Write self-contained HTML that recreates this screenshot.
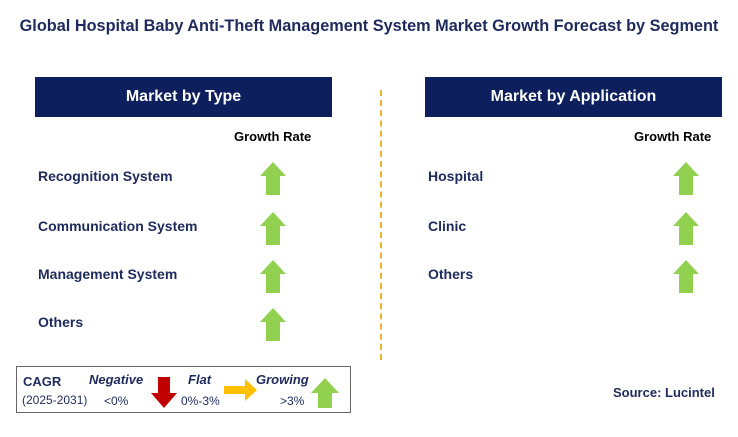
<!DOCTYPE html>
<html><head><meta charset="utf-8"><style>
body{margin:0;width:738px;height:437px;background:#fff;font-family:"Liberation Sans",sans-serif;position:relative;overflow:hidden}
.a{position:absolute}
.t{font-weight:bold;color:#1f2a5c}
.hdr{background:#0d1f5c;color:#fff;font-weight:bold;font-size:16px;text-align:center;line-height:40px;height:40px}
.lbl{font-weight:bold;font-size:14px;color:#1f2a5c}
.gr{font-weight:bold;font-size:13px;color:#000}
</style></head><body>
<div class="a t" style="left:0;width:738px;top:17px;text-align:center;font-size:16.3px">Global Hospital Baby Anti-Theft Management System Market Growth Forecast by Segment</div>
<div class="a hdr" style="left:35px;top:77px;width:297px">Market by Type</div>
<div class="a hdr" style="left:425px;top:77px;width:297px">Market by Application</div>
<div class="a gr" style="left:234px;top:129px">Growth Rate</div>
<div class="a gr" style="left:634px;top:129px">Growth Rate</div>
<div class="a" style="left:380px;top:90px;height:270px;border-left:2px dashed #f0b030"></div>
<div id="rows"></div>
<div class="a" style="left:16px;top:366px;width:333px;height:45px;border:1.5px solid #666"></div>
<div class="a t" style="left:23px;top:374px;font-size:13px">CAGR</div>
<div class="a" style="left:22px;top:393px;font-size:12px;color:#1f2a5c">(2025-2031)</div>
<div class="a t" style="left:89px;top:372px;font-size:13px;font-style:italic">Negative</div>
<div class="a" style="left:104px;top:394px;font-size:12px;color:#1f2a5c">&lt;0%</div>
<div class="a t" style="left:188px;top:372px;font-size:13px;font-style:italic">Flat</div>
<div class="a" style="left:181px;top:394px;font-size:12px;color:#1f2a5c">0%-3%</div>
<div class="a t" style="left:256px;top:372px;font-size:13px;font-style:italic">Growing</div>
<div class="a" style="left:280px;top:394px;font-size:12px;color:#1f2a5c">&gt;3%</div>
<svg class="a" style="left:0;top:0" width="738" height="437">
<polygon points="158,377 170,377 170,393 177,393 164,408 151,393 158,393" fill="#c00000"/>
<polygon points="224,386 245,386 245,379 257,390 245,401 245,394 224,394" fill="#ffc000"/>
<polygon points="318,393 318,408 332,408 332,393 339,393 325,378 311,393" fill="#92d050"/>
</svg>
<div class="a" style="left:613px;top:385px;font-size:13px;font-weight:bold;color:#1f2a5c">Source: Lucintel</div>
<script>
const typeCats=["Recognition System","Communication System","Management System","Others"];
const typeY=[177,227,275,323];
const appCats=["Hospital","Clinic","Others"];
const appY=[177,227,275];
const root=document.getElementById('rows');
function row(txt,x,y,ax,name){
 const d=document.createElement('div');
 d.className='a lbl';d.style.left=x+'px';d.style.top=(y-9)+'px';d.textContent=txt;
 
 
 root.appendChild(d);
 const s=document.createElementNS('http://www.w3.org/2000/svg','svg');
 s.setAttribute('width','28');s.setAttribute('height','34');
 s.setAttribute('class','a');s.style.left=ax+'px';s.style.top=(y-15)+'px';
 
 
 s.innerHTML='<polygon points="14,0 27,14 21,14 21,33 7,33 7,14 1,14" fill="#92d050"/>';
 root.appendChild(s);
}
typeCats.forEach((c,i)=>row(c,38,typeY[i],259,'type-'+c.toLowerCase().replace(/ /g,'-')));
appCats.forEach((c,i)=>row(c,428,appY[i],672,'application-'+c.toLowerCase().replace(/ /g,'-')));
</script>
</body></html>
